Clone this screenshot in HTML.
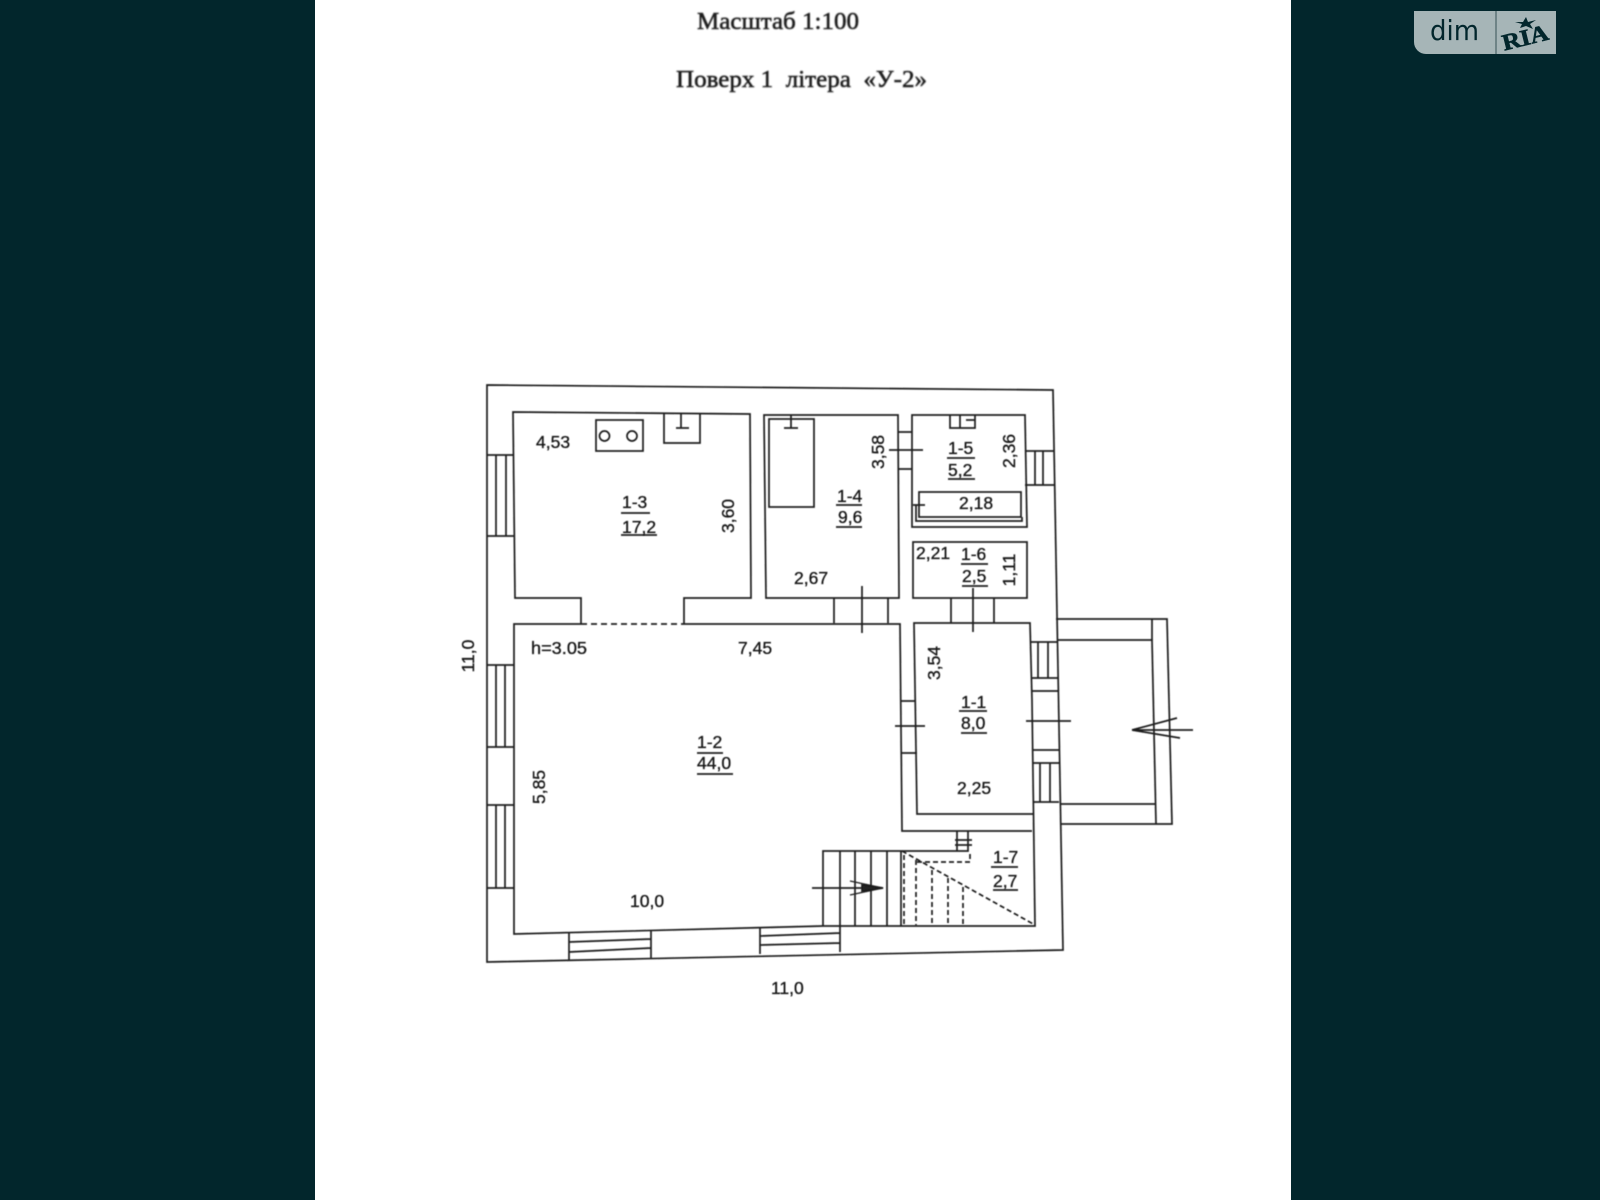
<!DOCTYPE html>
<html lang="uk"><head><meta charset="utf-8"><title>Поверх 1</title>
<style>html,body{margin:0;padding:0;width:1600px;height:1200px;overflow:hidden;background:#02262c}svg{display:block}</style>
</head><body>
<svg xmlns="http://www.w3.org/2000/svg" width="1600" height="1200" viewBox="0 0 1600 1200">
<defs><filter id="b" x="-5%" y="-5%" width="110%" height="110%"><feGaussianBlur stdDeviation="0.6"/></filter>
<filter id="c" x="-5%" y="-5%" width="110%" height="110%"><feGaussianBlur stdDeviation="0.9"/></filter></defs>
<rect width="1600" height="1200" fill="#02262c"/>
<rect x="315" y="0" width="976" height="1200" fill="#fff"/>
<g filter="url(#c)" font-family="'Liberation Serif',serif" fill="#1a1a1a" stroke="#1a1a1a" stroke-width="0.5" font-size="24">
<text x="697" y="29" textLength="162" lengthAdjust="spacingAndGlyphs">Масштаб 1:100</text>
<text x="676" y="87" textLength="251" lengthAdjust="spacingAndGlyphs" xml:space="preserve">Поверх 1  літера  «У-2»</text>
</g>
<g filter="url(#b)" fill="none" stroke="#1f1f1f" stroke-width="1.7">
<!-- outer walls -->
<path d="M487 385L1053 390L1063 950L487 962Z"/>
<!-- room 1-3 -->
<path d="M684 624V598H751L750 414L513 412L515 598H581V624"/>
<path d="M581 624H514L514 934L823 926H1035L1032 700L1030 623H914L917 814H1033"/>
<path d="M581 624H684" stroke-dasharray="6 4"/>
<path d="M684 624H900L902 831H1032"/>
<!-- 1-3 fixtures -->
<rect x="596" y="420" width="47" height="31"/>
<circle cx="604.5" cy="436" r="5"/><circle cx="632" cy="436" r="5"/>
<path d="M664 414V443H700V414M681 414V428M676 428H689"/>
<!-- room 1-4 -->
<path d="M764 415H898L899 598H766Z"/>
<rect x="769" y="419" width="45" height="88"/>
<path d="M791 415V428M784 428H798"/>
<path d="M834 598V623M888 598V623M862 586V633"/>
<!-- room 1-5 -->
<path d="M912 415H1025L1027 527H912Z"/>
<rect x="919" y="492" width="102" height="25"/>
<path d="M916 505V521H1022V517M913 505H925"/>
<path d="M950 415V428H975V415M960 415V428M966 420H975"/>
<path d="M898 432H912M898 469H912M889 450H923"/>
<path d="M1025 451H1054M1025 485H1054M1035 451V485M1043 451V485"/>
<!-- room 1-6 -->
<rect x="913" y="542" width="114" height="56"/>
<path d="M951 598V623M994 598V623M973 588V632"/>
<!-- porch -->
<path d="M1056 619H1167L1172 824H1060M1057 640H1152L1156 824M1060 804H1155"/>
<path d="M1152 619V640"/>
<path d="M1132 730H1193M1132 730L1177 718M1132 730L1180 738"/>
<path d="M1026 721H1071"/>
<!-- right-wall windows -->
<path d="M1031 642H1057M1031 678H1058M1038 642V678M1048 642V678"/>
<path d="M1031 691H1058M1032 750H1059M1032 763H1059M1033 802H1059M1040 763V802M1050 763V802"/>
<!-- door 1-2/1-1 -->
<path d="M900 701H916M901 753H917M895 726H925"/>
<!-- left windows -->
<path d="M487 455H514M487 536H514M496 455V536M506 455V536"/>
<path d="M487 665H514M487 747H514M496 665V747M505 665V747"/>
<path d="M487 805H514M487 888H514M496 805V888M505 805V888"/>
<!-- bottom windows -->
<path d="M569 933V960M651 931V958M569 942L651 939M569 952L651 948"/>
<path d="M760 928V954M840 926V952M760 936L840 933M760 945L840 943"/>
<!-- stairs -->
<path d="M823 926V851H957V831M968 831V851H957M955 840H972M955 845H972"/>
<path d="M840 851V926M855 851V926M871 851V926M887 851V926M901 851V926"/>
<path d="M812 888H883"/>
<path d="M850 881L883 888L850 895" stroke-width="1.2"/>
<path d="M862 885L883 888L862 891Z" fill="#222"/>
<path d="M902 851L1035 925M904 855V925M916 860V925M932 870V925M948 878V925M963 887V925M917 862H970V852" stroke-dasharray="5 3"/>
<!-- underlines -->
<path d="M621 513H650M621 535H657M836 505H862M836 527H862M947 458H975M948 479H975M961 564H988M962 586H988M697 753H723M697 774H733M959 711H987M961 733H987M991 867H1018M993 890H1018"/>
</g>
<g filter="url(#b)" font-family="'Liberation Sans',sans-serif" font-size="17.5" fill="#1a1a1a" stroke="#1a1a1a" stroke-width="0.35">
<text x="536" y="448">4,53</text>
<text x="622" y="508">1-3</text><text x="622" y="533">17,2</text>
<text transform="translate(734,516) rotate(-90)" text-anchor="middle">3,60</text>
<text x="837" y="502">1-4</text><text x="838" y="523">9,6</text>
<text transform="translate(884,452) rotate(-90)" text-anchor="middle">3,58</text>
<text x="794" y="584">2,67</text>
<text x="948" y="454">1-5</text><text x="948" y="476">5,2</text>
<text transform="translate(1015,451) rotate(-90)" text-anchor="middle">2,36</text>
<text x="959" y="509">2,18</text>
<text x="916" y="559">2,21</text>
<text x="961" y="560">1-6</text><text x="962" y="582">2,5</text>
<text transform="translate(1015,570) rotate(-90)" text-anchor="middle">1,11</text>
<text x="531" y="654" textLength="56" lengthAdjust="spacingAndGlyphs">h=3.05</text>
<text x="738" y="654">7,45</text>
<text transform="translate(474,656) rotate(-90)" text-anchor="middle">11,0</text>
<text x="697" y="748">1-2</text><text x="697" y="769">44,0</text>
<text transform="translate(545,787) rotate(-90)" text-anchor="middle">5,85</text>
<text x="630" y="907">10,0</text>
<text x="771" y="994">11,0</text>
<text transform="translate(940,663) rotate(-90)" text-anchor="middle">3,54</text>
<text x="961" y="708">1-1</text><text x="961" y="729">8,0</text>
<text x="957" y="794">2,25</text>
<text x="993" y="863">1-7</text><text x="993" y="887">2,7</text>
</g>
<!-- logo -->
<path d="M1414 11H1556V54H1426A12 12 0 0 1 1414 42Z" fill="#a6b5b7"/>
<path d="M1496 11V54" stroke="#4a6266" stroke-width="1.2"/>
<text x="1430" y="40" font-family="'DejaVu Sans',sans-serif" font-size="28" fill="#02262c" textLength="49" lengthAdjust="spacingAndGlyphs">dim</text>
<text transform="translate(1527,45) rotate(-14)" text-anchor="middle" font-family="'Liberation Serif',serif" font-weight="bold" font-size="23" fill="#02262c" stroke="#02262c" stroke-width="0.6" textLength="47" lengthAdjust="spacingAndGlyphs">RIA</text>
<path d="M1526 17L1528 22L1536 20L1530 24L1533 29L1526 26L1520 28L1522 24L1515 22L1523 22Z" fill="#02262c"/>
</svg>
</body></html>
